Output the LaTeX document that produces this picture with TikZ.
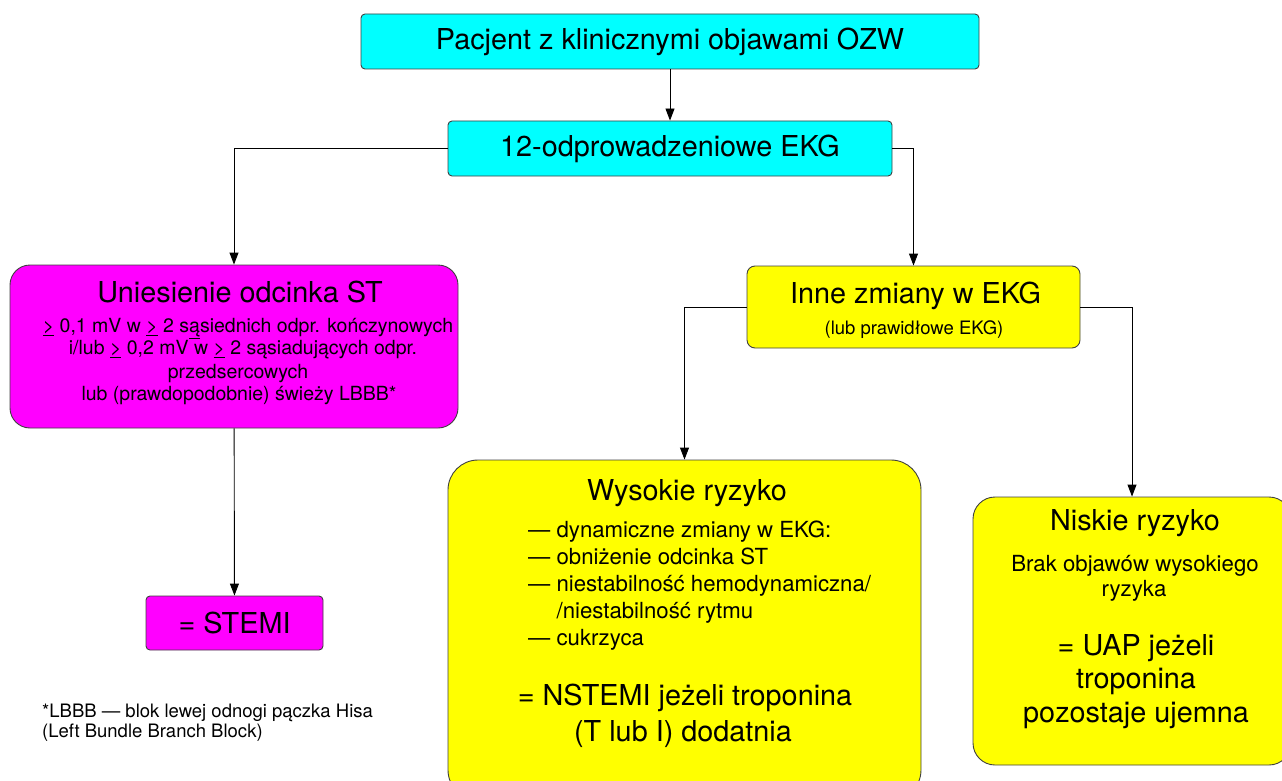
\documentclass[tikz,border=0pt]{standalone}
\usepackage{fontspec}
\setmainfont{TeX Gyre Heros}
\usetikzlibrary{arrows.meta}

\definecolor{boxcyan}{RGB}{0,255,255}
\definecolor{boxpink}{RGB}{255,0,255}
\definecolor{boxyellow}{RGB}{255,255,0}
\newcommand{\uge}{\underline{>}}

\begin{document}
\begin{tikzpicture}[x=1pt,y=-1pt,>={Triangle[length=12pt,width=9pt]},
  box/.style={draw=black!75,line width=0.9pt,inner sep=0pt},
  conn/.style={->,line width=0.9pt},
  big/.style={font=\fontsize{28.8}{32}\selectfont},
  body/.style={font=\fontsize{19.5}{23}\selectfont},
  list/.style={font=\fontsize{22.2}{27}\selectfont},
  note/.style={font=\fontsize{18.5}{20.5}\selectfont}]
\useasboundingbox (0,0) rectangle (1282,781);
\clip (0,0) rectangle (1282,781);

% boxes
\node[box,big,fill=boxcyan,rounded corners=4pt,minimum width=618pt,minimum height=55pt] (ozw) at (670,41.5) {Pacjent z klinicznymi objawami OZW};
\node[box,big,fill=boxcyan,rounded corners=4pt,minimum width=444pt,minimum height=55pt] (ekg) at (670,148.5) {12-odprowadzeniowe EKG};
\node[box,fill=boxpink,rounded corners=20pt,minimum width=448pt,minimum height=163pt] (st) at (234,346.5) {};
\node[box,big,fill=boxpink,rounded corners=4pt,minimum width=177pt,minimum height=54pt] (stemi) at (234.5,623) {= STEMI};
\node[box,fill=boxyellow,rounded corners=8pt,minimum width=333pt,minimum height=82pt] (inne) at (913.5,307) {};
\node[box,fill=boxyellow,rounded corners=30pt,minimum width=473pt,minimum height=340pt] (wys) at (684.5,630) {};
\node[box,fill=boxyellow,rounded corners=22pt,minimum width=318pt,minimum height=268pt] (nis) at (1132,631) {};

% connectors
\draw[conn] (ozw) -- (ekg);
\draw[conn] (ekg.west) -| (st.north);
\draw[conn] (ekg.east) -| (inne.north);
\draw[conn] (st) -- (stemi);
\draw[conn] (inne.west) -| (wys.north);
\draw[conn] (inne.east) -| (nis.north);

% ST elevation
\node[big,anchor=base] (st-title) at (240,302) {Uniesienie odcinka ST};
\foreach \x/\y/\t [count=\i] in {
  248/332/{\uge{} 0,1 mV w \uge{} 2 s\underline{ą}siednich odpr. kończynowych},
  243/354/{i/lub \uge{} 0,2 mV w \uge{} 2 sąsiadujących odpr.},
  238/378/{przedsercowych},
  239/400/{lub (prawdopodobnie) świeży LBBB*}}
  \node[body,anchor=base] (st-line\i) at (\x,\y) {\t};

% other changes
\node[big,anchor=base] (inne-title) at (915.5,303) {Inne zmiany w EKG};
\node[note,anchor=base] (inne-sub) at (914,334) {(lub prawidłowe EKG)};

% high risk
\node[big,anchor=base] (wys-title) at (687,500) {Wysokie ryzyko};
\foreach \y/\t [count=\i] in {
  537/{— dynamiczne zmiany w EKG:},
  564/{— obniżenie odcinka ST},
  591/{— niestabilność hemodynamiczna/},
  618/{\phantom{— }/niestabilność rytmu},
  645/{— cukrzyca}}
  \node[list,anchor=base west,inner sep=0pt] (wys-line\i) at (528,\y) {\t};
\node[big,anchor=base] (wys-res1) at (685,705) {= NSTEMI jeżeli troponina};
\node[big,anchor=base] (wys-res2) at (683,741) {(T lub I) dodatnia};

% low risk
\node[big,anchor=base] (nis-title) at (1135,530) {Niskie ryzyko};
\node[list,anchor=base] (nis-line1) at (1135,571) {Brak objawów wysokiego};
\node[list,anchor=base] (nis-line2) at (1134,596) {ryzyka};
\foreach \y/\t [count=\i] in {655/{= UAP jeżeli},688/{troponina},722/{pozostaje ujemna}}
  \node[big,anchor=base] (nis-res\i) at (1136,\y) {\t};

% footnote
\node[note,anchor=base west,inner sep=0pt] (fn1) at (42,717) {*LBBB — blok lewej odnogi pączka Hisa};
\node[note,anchor=base west,inner sep=0pt] (fn2) at (42,737) {(Left Bundle Branch Block)};
\end{tikzpicture}
\end{document}
